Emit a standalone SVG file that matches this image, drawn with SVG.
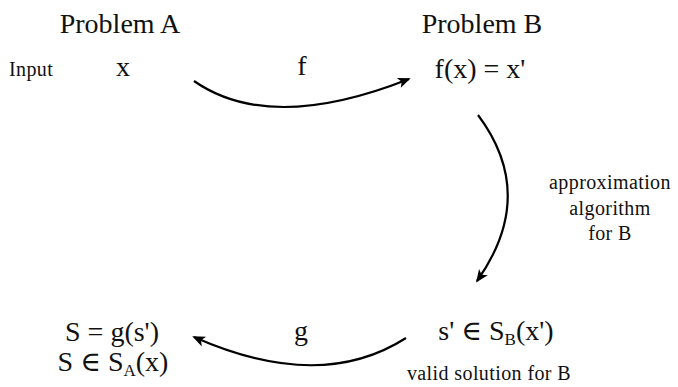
<svg xmlns="http://www.w3.org/2000/svg" width="678" height="387" viewBox="0 0 678 387">
<style>
text { font-family: "Liberation Serif", "DejaVu Serif", serif; fill: #111; }
.big { font-size: 28px; }
.small { font-size: 20px; letter-spacing: 0.4px; }
.sub { font-size: 17px; }
.conn { fill: none; stroke: #000; stroke-width: 2.2; marker-end: url(#arr); }
</style>
<defs>
<marker id="arr" viewBox="0 0 12 10" refX="10" refY="5" markerWidth="8" markerHeight="7" markerUnits="userSpaceOnUse" orient="auto" overflow="visible">
<path d="M0,0 L12,5 L0,10 L3,5 Z" fill="#000" transform="scale(1.6) translate(-4,-2)"/>
</marker>
</defs>
<rect width="678" height="387" fill="#fff"/>
<g id="probA"><text class="big" x="120" y="33" text-anchor="middle">Problem A</text></g>
<g id="probB"><text class="big" x="482" y="33" text-anchor="middle">Problem B</text></g>
<g id="input"><text class="small" x="9" y="76">Input</text></g>
<g id="x"><text class="big" x="123" y="76" text-anchor="middle">x</text></g>
<g id="fx"><text class="big" x="480" y="78" text-anchor="middle">f(x) = x'</text></g>
<g id="sol"><text class="big" x="496" y="340" text-anchor="middle">s' ∈ S<tspan class="sub" dy="5">B</tspan><tspan dy="-5">(x')</tspan></text>
<text class="small" x="489" y="380" text-anchor="middle">valid solution for B</text></g>
<g id="S"><text class="big" x="112" y="341" text-anchor="middle">S = g(s')</text>
<text class="big" x="113" y="371" text-anchor="middle">S ∈ S<tspan class="sub" dy="5">A</tspan><tspan dy="-5">(x)</tspan></text></g>
<g id="connectors">
<path class="conn" d="M194,81 Q270,134 409,79"/>
<path class="conn" d="M478,115 Q538,195 477,281"/>
<path class="conn" d="M406,338 Q320,393 194,337"/>
<text class="big" x="302" y="75" text-anchor="middle">f</text>
<text class="small" x="610" y="189" text-anchor="middle">approximation</text>
<text class="small" x="610" y="215" text-anchor="middle">algorithm</text>
<text class="small" x="610" y="240" text-anchor="middle">for B</text>
<text class="big" x="301" y="340" text-anchor="middle">g</text>
</g>
</svg>
